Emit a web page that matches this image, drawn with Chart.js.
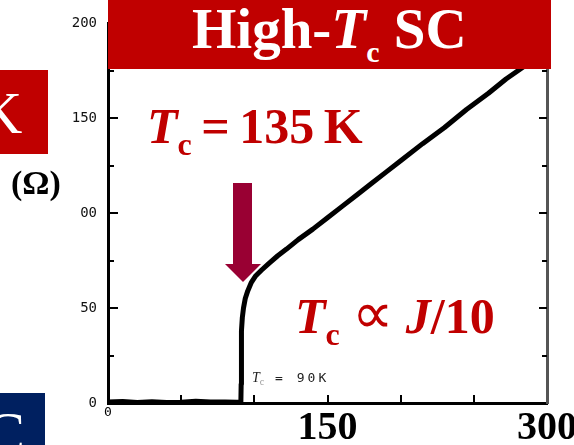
<!DOCTYPE html>
<html>
<head>
<meta charset="utf-8">
<script src="https://cdn.jsdelivr.net/npm/chart.js@4.4.0/dist/chart.umd.min.js"></script>
<style>
  body { margin: 0; background: #fff; }
  #page { position: relative; width: 574px; height: 445px; overflow: hidden; font-family: "Liberation Serif", "Times New Roman", serif; }
  #page canvas { position: absolute; left: 0; top: 0; }
  .abs { position: absolute; white-space: nowrap; line-height: 1; }
  .red { color: #c00000; font-weight: bold; }
  .sub { position: relative; }
</style>
</head>
<body>
<div id="page">
  <canvas id="chart" width="574" height="445"></canvas>

  <!-- bits of the slide around the plot -->
  <div class="abs" style="left:0;top:70px;width:48px;height:84px;background:#c00000;overflow:hidden;">
    <div class="abs" style="left:-21px;top:13px;font-size:60px;color:#fff;">K</div>
  </div>
  <div class="abs" style="left:11px;top:166px;font-size:34px;font-weight:bold;">(Ω)</div>
  <div class="abs" style="left:0;top:393px;width:45px;height:52px;background:#002060;overflow:hidden;">
    <div class="abs" style="left:-15px;top:10px;font-size:60px;color:#fff;">C</div>
  </div>

  <div class="abs" style="left:108px;top:0;width:443px;height:69px;background:#c00000;"></div>
  <div class="abs" style="left:192px;top:0;font-size:57px;font-weight:bold;color:#fff;">High-<i>T</i><span class="sub" style="font-size:30px;top:14px;">c</span> SC</div>

  <div class="abs red" style="left:147px;top:101px;font-size:50px;word-spacing:-3px;"><i>T</i><span class="sub" style="font-size:32px;top:12px;">c</span> = 135 K</div>
  <div class="abs red" style="left:295px;top:291px;font-size:50px;"><i>T</i><span class="sub" style="font-size:32px;top:12px;">c</span> <span style="font-weight:normal;font-size:58px;line-height:0;">∝</span> <i>J</i>/10</div>

  <svg class="abs" style="left:0;top:0;" width="574" height="445">
    <rect x="233" y="183" width="19" height="82" fill="#990033"/>
    <polygon points="225,264 261,264 243,282" fill="#990033"/>
  </svg>

  <div class="abs" style="left:252px;top:371px;font-size:13px;color:#222;">
    <i style="font-family:'Liberation Serif',serif;font-size:14px;">T</i><span class="sub" style="font-size:10px;top:3px;color:#999;">c</span><span style="font-family:'DejaVu Sans Mono',monospace;letter-spacing:3px;"> = 90K</span>
  </div>
</div>

<script>
// resistance (ohm) vs temperature (K)
const temperature = [0, 10, 20, 30, 40, 50, 60, 70, 80, 88, 90.8, 91, 91.1, 91.3, 91.8, 92.6, 93.8, 95.5, 98, 101,
  105, 110, 116, 122, 130, 140, 150, 160, 170, 180, 190, 200, 215, 230, 245, 260, 272, 285, 300];
const resistance = [0.5, 0.8, 0.3, 0.6, 0.2, 0.4, 0.9, 0.5, 0.5, 0.4, 0.5, 10, 25, 38, 45, 50, 55, 59, 63.5, 67,
  70, 73.5, 77.5, 81, 86, 91.5, 97.5, 103.5, 109.5, 115.5, 121.5, 127.5, 136.5, 145, 154.5, 163, 170.5, 177.5, 187];

const xTickLabels = ['0', '', '', '150', '', '', '300'];
const yTickLabels = ['0', '50', '00', '150', '200'];

const points = temperature.map((t, i) => ({ x: t, y: resistance[i] }));

// tick marks pointing into the plot
const innerTicks = {
  id: 'innerTicks',
  afterDatasetsDraw(chart) {
    const { ctx, chartArea: a, scales: { x, y } } = chart;
    ctx.save();
    ctx.strokeStyle = '#000';
    ctx.lineWidth = 2;
    ctx.beginPath();
    y.ticks.forEach(t => {
      if (t.value <= 0 || t.value >= 200) return;
      const py = Math.round(y.getPixelForValue(t.value));
      const major = t.value % 50 === 0;
      ctx.moveTo(a.left, py);
      ctx.lineTo(a.left + (major ? 10 : 6), py);
      ctx.moveTo(a.right, py);
      ctx.lineTo(a.right - (major ? 8 : 5), py);
    });
    x.ticks.forEach(t => {
      if (t.value <= 0 || t.value >= 300) return;
      const px = Math.round(x.getPixelForValue(t.value));
      ctx.moveTo(px, a.bottom);
      ctx.lineTo(px, a.bottom - 8);
    });
    ctx.stroke();
    ctx.restore();
  }
};

new Chart(document.getElementById('chart'), {
  type: 'line',
  data: {
    datasets: [{
      data: points,
      borderColor: '#000',
      borderWidth: 5,
      pointRadius: 0,
      borderJoinStyle: 'round',
      borderCapStyle: 'round',
      tension: 0
    }]
  },
  options: {
    responsive: false,
    animation: false,
    layout: { padding: { top: 23, left: 0, right: 0, bottom: 0 } },
    plugins: { legend: { display: false }, tooltip: { enabled: false } },
    scales: {
      x: {
        type: 'linear',
        min: 0,
        max: 300,
        grid: { display: false, drawTicks: false },
        border: { color: '#000', width: 3 },
        ticks: {
          stepSize: 50,
          autoSkip: false,
          maxRotation: 0,
          padding: 2,
          color: '#000',
          callback: (v, i) => xTickLabels[i],
          font: c => (c.tick && c.tick.value === 0)
            ? { family: 'DejaVu Sans Mono', size: 13 }
            : { family: 'Liberation Serif', size: 40, weight: 'bold' }
        },
        afterFit: s => { s.height = 42; s.paddingLeft = 0; s.paddingRight = 0; }
      },
      y: {
        min: 0,
        max: 200,
        grid: { display: false, drawTicks: false },
        border: { color: '#000', width: 3 },
        ticks: {
          stepSize: 25,
          padding: 11,
          color: '#111',
          font: { family: 'DejaVu Sans Mono', size: 14 },
          callback: v => (v % 50 === 0 ? yTickLabels[v / 50] : '')
        },
        afterFit: s => { s.width = 108; s.paddingTop = 0; s.paddingBottom = 0; }
      },
      y2: {
        position: 'right',
        min: 0,
        max: 200,
        grid: { display: false, drawTicks: false },
        border: { color: '#555', width: 3 },
        ticks: { display: false },
        afterFit: s => { s.width = 27; }
      }
    }
  },
  plugins: [innerTicks]
});
</script>
</body>
</html>
